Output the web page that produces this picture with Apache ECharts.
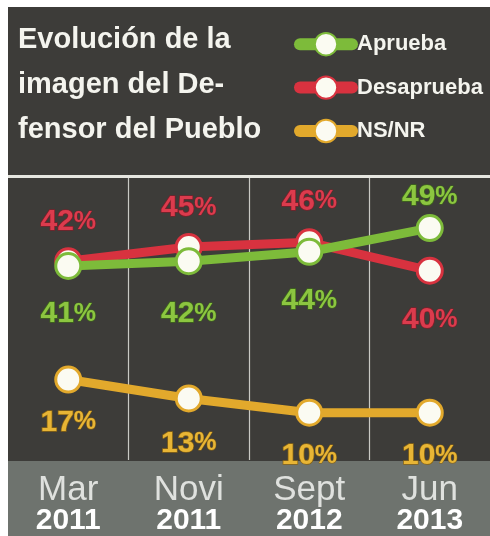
<!DOCTYPE html>
<html>
<head>
<meta charset="utf-8">
<script src="https://cdn.jsdelivr.net/npm/echarts@6/dist/echarts.min.js"></script>
<style>
  html, body { margin: 0; padding: 0; background: #fff; }
  #chart { position: absolute; left: 8px; top: 7px; width: 482px; height: 529px; }
</style>
</head>
<body>
<div id="chart"></div>
<script>
// periods on the x axis
const months = ["Mar", "Novi", "Sept", "Jun"];
const years = ["2011", "2011", "2012", "2013"];

// percentages per series
const aprueba = [41, 42, 44, 49];
const desaprueba = [42, 45, 46, 40];
const nsnr = [17, 13, 10, 10];

// where each value label sits: true = above the point
const apruebaAbove = [false, false, false, true];
const desapruebaAbove = [true, true, true, false];
const nsnrAbove = [false, false, false, false];

const GREEN = "#7dbb3a";
const RED = "#d8323f";
const ORANGE = "#e2a92c";

const chart = echarts.init(document.getElementById("chart"));

const labelStyle = (color, edge) => ({
  show: true,
  formatter: (p) => "{n|" + p.value + "}{p|%}",
  rich: {
    n: {
      fontFamily: "Liberation Sans, Arial, sans-serif",
      fontWeight: "bold",
      fontSize: 30,
      color: color,
      textBorderColor: edge,
      textBorderWidth: 1.5,
    },
    p: {
      fontFamily: "Liberation Sans, Arial, sans-serif",
      fontWeight: "bold",
      fontSize: 25,
      color: color,
      textBorderColor: edge,
      textBorderWidth: 1,
    },
  },
});

const makeSeries = (name, values, above, gaps, color, labelColor, edge, z) => ({
  name,
  type: "line",
  z,
  data: values.map((v, i) => ({
    value: v,
    label: {
      position: above[i] ? "top" : "bottom",
      distance: gaps[i],
    },
  })),
  symbol: "circle",
  symbolSize: 25,
  lineStyle: { color, width: 9 },
  itemStyle: { color: "#fbfbf2", borderColor: color, borderWidth: 3 },
  label: labelStyle(labelColor, edge),
  animation: false,
});

chart.setOption({
  backgroundColor: "#3d3c39",
  animation: false,
  title: {
    text: "Evolución de la\nimagen del De-\nfensor del Pueblo",
    left: 5,
    top: 5,
    textStyle: {
      fontFamily: "Liberation Sans, Arial, sans-serif",
      fontWeight: "bold",
      fontSize: 29,
      lineHeight: 45,
      color: "#f4f4ee",
    },
  },
  legend: {
    orient: "vertical",
    left: 281,
    top: 20,
    itemWidth: 52,
    itemHeight: 28,
    itemGap: 19,
    data: ["Aprueba", "Desaprueba", "NS/NR"],
    lineStyle: { width: 12, cap: "round" },
    textStyle: {
      fontFamily: "Liberation Sans, Arial, sans-serif",
      fontWeight: "bold",
      fontSize: 22,
      color: "#f4f4ee",
    },
  },
  graphic: [
    {
      type: "rect",
      left: 0,
      bottom: 0,
      shape: { width: 482, height: 75 },
      style: { fill: "#6e736e" },
      z: -1,
    },
  ],
  grid: { left: 0, right: 0, top: 169, bottom: 75 },
  xAxis: [
    {
      type: "category",
      data: months.map((m, i) => m + "\n" + years[i]),
      boundaryGap: true,
      axisLine: { show: false },
      axisTick: { show: false },
      splitLine: {
        show: true,
        showMinLine: false,
        showMaxLine: false,
        lineStyle: { color: "#c9c9c4", width: 1.2 },
      },
      axisLabel: {
        margin: 14,
        formatter: (v) => {
          const [m, y] = v.split("\n");
          return "{m|" + m + "}\n{y|" + y + "}";
        },
        rich: {
          m: {
            fontFamily: "Liberation Sans, Arial, sans-serif",
            fontSize: 35,
            lineHeight: 32,
            color: "#dfe1de",
          },
          y: {
            fontFamily: "Liberation Sans, Arial, sans-serif",
            fontWeight: "bold",
            fontSize: 30,
            lineHeight: 30,
            color: "#ffffff",
          },
        },
      },
    },
    {
      type: "category",
      position: "top",
      data: months,
      axisLine: { show: true, lineStyle: { color: "#e6e6e0", width: 3 } },
      axisTick: { show: false },
      axisLabel: { show: false },
    },
  ],
  yAxis: {
    type: "value",
    min: 0,
    max: 60,
    show: false,
    splitLine: { show: false },
  },
  series: [
    makeSeries("NS/NR", nsnr, nsnrAbove, [14, 16, 14, 14], ORANGE, "#e8b535", "#8a6514", 3),
    makeSeries("Desaprueba", desaprueba, desapruebaAbove, [10, 10, 12, 20], RED, "#dc3b4d", "#7e1f29", 4),
    makeSeries("Aprueba", aprueba, apruebaAbove, [19, 24, 20, 2], GREEN, "#8cc640", "#3f6a1a", 5),
  ],
});
</script>
</body>
</html>
